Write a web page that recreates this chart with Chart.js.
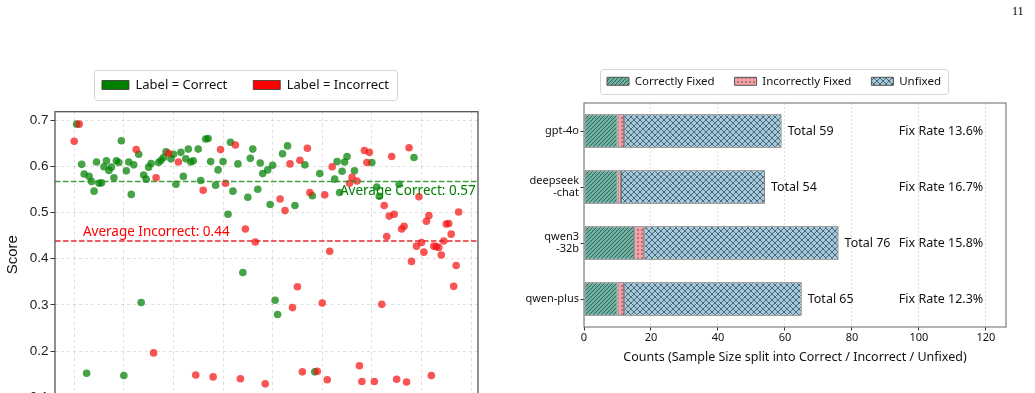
<!DOCTYPE html>
<html>
<head>
<meta charset="utf-8">
<title>Score distribution and fix counts</title>
<script src="https://cdn.jsdelivr.net/npm/chart.js@4.4.1/dist/chart.umd.min.js"></script>
<style>
    html, body { margin: 0; padding: 0; background: #fff; overflow: hidden; }
    body { width: 1035px; height: 393px; position: relative; }
    #scoreChart { position: absolute; left: 0; top: 0; }
    #fixChart { position: absolute; left: 520px; top: 0; }
    #pageNum { position: absolute; left: 1012px; top: 4px; font: 12px "Liberation Serif", serif; color: #000; }
</style>
</head>
<body>
<div id="pageNum">11</div>
<canvas id="scoreChart" width="490" height="440"></canvas>
<canvas id="fixChart" width="508" height="380"></canvas>
<script>
// ---- Left panel: score per sample (x = sample index) ----
const scores = [
    0.654, 0.691, 0.691, 0.604, 0.583, 0.152, 0.578, 0.567, 0.546, 0.609,
    0.563, 0.564, 0.599, 0.612, 0.591, 0.598, 0.575, 0.612, 0.608, 0.655,
    0.147, 0.590, 0.609, 0.539, 0.603, 0.636, 0.626, 0.305, 0.581, 0.572,
    0.598, 0.606, 0.196, 0.575, 0.608, 0.613, 0.619, 0.631, 0.628, 0.616,
    0.626, 0.561, 0.609, 0.630, 0.578, 0.616, 0.637, 0.609, 0.612, 0.148,
    0.637, 0.569, 0.548, 0.659, 0.660, 0.610, 0.144, 0.559, 0.592, 0.636,
    0.610, 0.563, 0.496, 0.652, 0.546, 0.646, 0.605, 0.140, 0.370, 0.464,
    0.533, 0.617, 0.637, 0.436, 0.550, 0.607, 0.584, 0.129, 0.592, 0.517,
    0.602, 0.310, 0.279, 0.529, 0.627, 0.504, 0.644, 0.605, 0.294, 0.515,
    0.339, 0.613, 0.155, 0.603, 0.639, 0.543, 0.536, 0.155, 0.156, 0.584,
    0.304, 0.538, 0.138, 0.416, 0.599, 0.572, 0.610, 0.543, 0.589, 0.609,
    0.621, 0.563, 0.576, 0.590, 0.568, 0.168, 0.134, 0.634, 0.608, 0.630,
    0.608, 0.134, 0.555, 0.535, 0.301, 0.515, 0.448, 0.492, 0.621, 0.496,
    0.139, 0.561, 0.464, 0.470, 0.133, 0.640, 0.394, 0.619, 0.427, 0.534,
    0.435, 0.414, 0.481, 0.493, 0.147, 0.427, 0.426, 0.424, 0.408, 0.438,
    0.475, 0.476, 0.453, 0.340, 0.385, 0.501
];
// 1 = Label Correct, 0 = Label Incorrect
const isCorrect = [
    0, 1, 0, 1, 1, 1, 1, 1, 1, 1,
    1, 1, 1, 1, 1, 1, 1, 1, 1, 1,
    1, 1, 1, 1, 1, 0, 1, 1, 1, 1,
    1, 1, 0, 0, 1, 1, 1, 1, 0, 1,
    1, 1, 0, 1, 1, 1, 1, 1, 1, 0,
    1, 1, 0, 1, 1, 1, 0, 1, 1, 0,
    1, 0, 1, 1, 1, 0, 1, 0, 1, 0,
    1, 1, 1, 0, 1, 1, 1, 0, 1, 1,
    1, 1, 1, 0, 1, 0, 1, 0, 0, 1,
    0, 0, 0, 1, 0, 0, 1, 1, 0, 1,
    0, 0, 0, 0, 0, 1, 1, 1, 1, 1,
    1, 0, 0, 1, 0, 0, 0, 0, 0, 0,
    1, 0, 1, 1, 0, 0, 0, 0, 0, 0,
    0, 1, 0, 0, 0, 0, 0, 1, 0, 0,
    0, 0, 0, 0, 0, 0, 0, 0, 0, 0,
    0, 0, 0, 0, 0, 0
];
const avgCorrect = 0.567;
const avgIncorrect = 0.438;
const scoreRange = [0.099, 0.718];
const indexRange = [-7.75, 162.8];

// ---- Right panel: fix outcome counts per model ----
const models = ['gpt-4o', ['deepseek', '-chat'], ['qwen3', '-32b'], 'qwen-plus'];
const correctlyFixed = [10, 10, 15, 10];
const incorrectlyFixed = [2, 1, 3, 2];
const unfixed = [47, 43, 58, 53];
const fixRates = [13.6, 16.7, 15.8, 12.3];
const countMax = 126;

const totals = models.map((_, i) => correctlyFixed[i] + incorrectlyFixed[i] + unfixed[i]);

const COMIC = '"Comic Sans MS", "Noto Sans", sans-serif';
const PLAIN = '"Liberation Sans", Arial, sans-serif';
Chart.defaults.font.family = COMIC;
Chart.defaults.color = '#111';

// Legend gets nudged after layout, then framed like a matplotlib legend
const legendFrame = {
    id: 'legendFrame',
    afterLayout(chart, args, opts) {
        const lg = chart.legend;
        if (!lg) return;
        lg.left += opts.dx || 0;
        lg.right += opts.dx || 0;
        lg.top += opts.dy || 0;
        lg.bottom += opts.dy || 0;
    },
    beforeDraw(chart, args, opts) {
        const boxes = chart.legend && chart.legend.legendHitBoxes;
        if (!boxes || !boxes.length) return;
        const first = boxes[0];
        const last = boxes[boxes.length - 1];
        const cy = first.top + first.height / 2;
        const x0 = Math.round(first.left - opts.padX) + 0.5;
        const x1 = Math.round(last.left + last.width + opts.padX) + 0.5;
        const y0 = Math.round(cy - opts.halfH) + 0.5;
        const y1 = Math.round(cy + opts.halfH) + 0.5;
        const ctx = chart.ctx;
        ctx.save();
        ctx.beginPath();
        ctx.roundRect(x0, y0, x1 - x0, y1 - y0, 3);
        ctx.fillStyle = '#fff';
        ctx.fill();
        ctx.strokeStyle = '#d4d4d4';
        ctx.lineWidth = 1;
        ctx.stroke();
        ctx.restore();
    }
};

// Box around the plot area (all four spines)
const plotFrame = {
    id: 'plotFrame',
    afterDatasetsDraw(chart, args, opts) {
        const { ctx, chartArea: a } = chart;
        ctx.save();
        ctx.strokeStyle = opts.color;
        ctx.lineWidth = opts.width;
        ctx.strokeRect(a.left, a.top, a.right - a.left, a.bottom - a.top);
        ctx.restore();
    }
};

// Text next to the average lines
const avgLabels = {
    id: 'avgLabels',
    afterDatasetsDraw(chart) {
        const { ctx, scales: { x, y } } = chart;
        ctx.save();
        ctx.font = `13.5px ${COMIC}`;
        ctx.textBaseline = 'middle';
        ctx.fillStyle = '#008000';
        ctx.textAlign = 'right';
        ctx.fillText(`Average Correct: ${avgCorrect.toFixed(2)}`,
            x.getPixelForValue(161.9), y.getPixelForValue(avgCorrect - 0.022));
        ctx.fillStyle = '#ff0000';
        ctx.textAlign = 'left';
        ctx.fillText(`Average Incorrect: ${avgIncorrect.toFixed(2)}`,
            x.getPixelForValue(3.5), y.getPixelForValue(avgIncorrect + 0.019));
        ctx.restore();
    }
};

// "Total N" after each bar and the fix rate column
const barNotes = {
    id: 'barNotes',
    afterDatasetsDraw(chart) {
        const { ctx, scales: { x, y } } = chart;
        ctx.save();
        ctx.font = `12.5px ${COMIC}`;
        ctx.fillStyle = '#111';
        ctx.textBaseline = 'middle';
        ctx.textAlign = 'left';
        totals.forEach((t, i) => {
            const yc = y.getPixelForValue(i);
            ctx.fillText(`Total ${t}`, x.getPixelForValue(t + 1.8), yc);
            ctx.fillText(`Fix Rate ${fixRates[i].toFixed(1)}%`, x.getPixelForValue(94), yc);
        });
        ctx.restore();
    }
};

function hatch(base, kind) {
    const size = kind === 'cross' ? 6 : 4;
    const c = document.createElement('canvas');
    c.width = c.height = size;
    const g = c.getContext('2d');
    g.fillStyle = base;
    g.fillRect(0, 0, size, size);
    g.strokeStyle = '#3a3a3a';
    g.fillStyle = '#3a3a3a';
    g.lineWidth = 0.7;
    if (kind === 'diag' || kind === 'cross') {
        g.beginPath();
        g.moveTo(-1, size + 1); g.lineTo(size + 1, -1);
        g.moveTo(-1, 1); g.lineTo(1, -1);
        g.moveTo(size - 1, size + 1); g.lineTo(size + 1, size - 1);
        g.stroke();
    }
    if (kind === 'cross') {
        g.beginPath();
        g.moveTo(-1, -1); g.lineTo(size + 1, size + 1);
        g.moveTo(size - 1, -1); g.lineTo(size + 1, 1);
        g.moveTo(-1, size - 1); g.lineTo(1, size + 1);
        g.stroke();
    }
    if (kind === 'dots') {
        g.beginPath();
        g.arc(size / 2, size / 2, 0.75, 0, Math.PI * 2);
        g.fill();
    }
    return g.createPattern(c, 'repeat');
}

// ---------- Scatter chart ----------
const correctPts = [];
const incorrectPts = [];
scores.forEach((s, i) => (isCorrect[i] ? correctPts : incorrectPts).push({ x: i, y: s }));

const legendSolid = ['#008000', '#ff0000'];

new Chart(document.getElementById('scoreChart'), {
    type: 'scatter',
    data: {
        datasets: [
            {
                label: 'Label = Correct',
                data: correctPts,
                backgroundColor: 'rgba(0,128,0,0.72)',
                pointRadius: 3.8,
                pointBorderWidth: 0,
                order: 3
            },
            {
                label: 'Label = Incorrect',
                data: incorrectPts,
                backgroundColor: 'rgba(245,20,20,0.72)',
                pointRadius: 3.8,
                pointBorderWidth: 0,
                order: 2
            },
            {
                label: 'avg-correct',
                data: [{ x: indexRange[0], y: avgCorrect }, { x: indexRange[1], y: avgCorrect }],
                showLine: true,
                borderColor: 'rgba(30,140,30,0.85)',
                borderWidth: 1.5,
                borderDash: [5.5, 2.5],
                pointRadius: 0,
                order: 1
            },
            {
                label: 'avg-incorrect',
                data: [{ x: indexRange[0], y: avgIncorrect }, { x: indexRange[1], y: avgIncorrect }],
                showLine: true,
                borderColor: 'rgba(225,20,20,0.9)',
                borderWidth: 1.5,
                borderDash: [5.5, 2.5],
                pointRadius: 0,
                order: 1
            }
        ]
    },
    options: {
        responsive: false,
        animation: false,
        events: [],
        layout: { padding: { left: 0, right: 12, top: 62.7, bottom: 12.3 } },
        plugins: {
            tooltip: { enabled: false },
            legend: {
                position: 'top',
                labels: {
                    font: { size: 13 },
                    color: '#111',
                    boxWidth: 27,
                    boxHeight: 9,
                    padding: 26,
                    sort: (a, b) => a.datasetIndex - b.datasetIndex,
                    filter: item => item.datasetIndex < 2,
                    generateLabels: chart => Chart.defaults.plugins.legend.labels.generateLabels(chart)
                        .map(l => ({ ...l, fillStyle: legendSolid[l.datasetIndex] || l.fillStyle, strokeStyle: '#333', lineWidth: 0.8 }))
                }
            },
            legendFrame: { dx: 6.5, dy: -10.2, padX: 7.5, halfH: 15 },
            plotFrame: { color: '#555', width: 1.3 }
        },
        scales: {
            x: {
                type: 'linear',
                min: indexRange[0],
                max: indexRange[1],
                ticks: { stepSize: 20, includeBounds: false, font: { family: PLAIN, size: 13.5 }, color: '#222' },
                grid: { color: 'rgba(0,0,0,0.12)', tickColor: '#333', tickLength: 4.5, tickBorderDash: [] },
                border: { display: false, dash: [3, 3] },
                afterFit: s => { s.height = 30; }
            },
            y: {
                min: scoreRange[0],
                max: scoreRange[1],
                ticks: {
                    stepSize: 0.1,
                    includeBounds: false,
                    padding: 2,
                    font: { family: PLAIN, size: 13.5 },
                    color: '#222',
                    callback: v => v.toFixed(1)
                },
                grid: { color: 'rgba(0,0,0,0.12)', tickColor: '#333', tickLength: 4.5, tickBorderDash: [] },
                border: { display: false, dash: [3, 3] },
                title: {
                    display: true,
                    text: 'Score',
                    font: { family: PLAIN, size: 15 },
                    color: '#111',
                    padding: { top: 3.5, bottom: 0 }
                },
                afterFit: s => { s.width = 55; }
            }
        }
    },
    plugins: [legendFrame, plotFrame, avgLabels]
});

// ---------- Stacked horizontal bar chart ----------
const barStyle = {
    borderColor: '#555',
    borderWidth: 1,
    borderSkipped: false,
    barPercentage: 0.6,
    categoryPercentage: 1.0
};

new Chart(document.getElementById('fixChart'), {
    type: 'bar',
    data: {
        labels: models,
        datasets: [
            { label: 'Correctly Fixed', data: correctlyFixed, backgroundColor: hatch('#69b3a2', 'diag'), ...barStyle },
            { label: 'Incorrectly Fixed', data: incorrectlyFixed, backgroundColor: hatch('#f9a0a6', 'dots'), ...barStyle },
            { label: 'Unfixed', data: unfixed, backgroundColor: hatch('#9ecae1', 'cross'), ...barStyle }
        ]
    },
    options: {
        indexAxis: 'y',
        responsive: false,
        animation: false,
        events: [],
        layout: { padding: { left: 0, right: 22, top: 61.5, bottom: 13 } },
        plugins: {
            tooltip: { enabled: false },
            legend: {
                position: 'top',
                labels: {
                    font: { size: 11.5 },
                    color: '#111',
                    boxWidth: 22,
                    boxHeight: 8,
                    padding: 20
                }
            },
            legendFrame: { dx: 11, dy: -5.95, padX: 7, halfH: 12.3 },
            plotFrame: { color: '#808080', width: 1.2 }
        },
        scales: {
            x: {
                stacked: true,
                min: 0,
                max: countMax,
                ticks: { stepSize: 20, includeBounds: false, padding: 1, font: { size: 11 }, color: '#111' },
                grid: { color: '#dedede', tickColor: '#333', tickLength: 3.5, tickBorderDash: [] },
                border: { display: false, dash: [2, 2] },
                title: {
                    display: true,
                    text: 'Counts (Sample Size split into Correct / Incorrect / Unfixed)',
                    font: { size: 12.5 },
                    color: '#111',
                    padding: { top: 0, bottom: 2.3 }
                },
                afterFit: s => { s.height = 40; }
            },
            y: {
                stacked: true,
                ticks: { padding: 1.5, font: { size: 11, lineHeight: 1.1 }, color: '#111' },
                grid: { drawOnChartArea: false, offset: false, tickColor: '#333', tickLength: 3.5 },
                border: { display: false },
                afterFit: s => { s.width = 64; }
            }
        }
    },
    plugins: [legendFrame, plotFrame, barNotes]
});
</script>
</body>
</html>
